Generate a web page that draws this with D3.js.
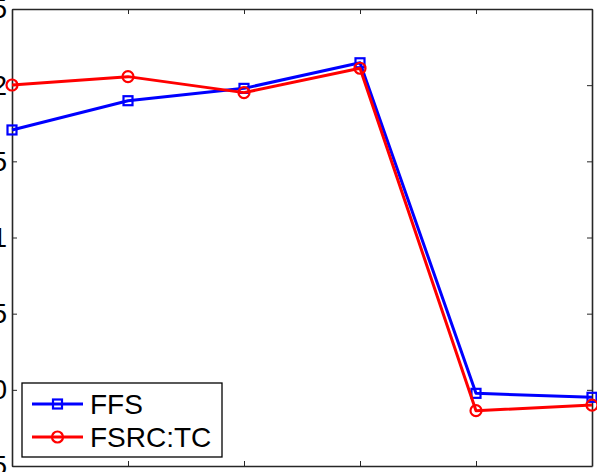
<!DOCTYPE html>
<html>
<head>
<meta charset="utf-8">
<script src="https://cdn.jsdelivr.net/npm/d3@7"></script>
<style>
  body { margin: 0; background: #fff; }
  svg { display: block; font-family: 'Liberation Sans', Arial, sans-serif; }
</style>
</head>
<body>
<div id="chart"></div>
<script>
// x positions 1..6, y values
const steps = [1, 2, 3, 4, 5, 6];
const ffsValues = [0.1706, 0.1898, 0.1979, 0.2147, -0.0023, -0.0049];
const fsrcValues = [0.2001, 0.2056, 0.1951, 0.2111, -0.0137, -0.0100];
const yTicks = [-0.05, 0, 0.05, 0.1, 0.15, 0.2, 0.25];

const series = [
  { label: 'FFS', color: '#0000ff', marker: 'square', values: ffsValues },
  { label: 'FSRC:TC', color: '#ff0000', marker: 'circle', values: fsrcValues },
];

const width = 597;
const height = 472;
const plot = { left: 12, right: 592, top: 9, bottom: 466 };
const tickLen = 5;

const svg = d3.select('#chart').append('svg').attr('width', width).attr('height', height);

const xScale = d3.scaleLinear().domain([1, 6]).range([plot.left, plot.right]);
const yScale = d3.scaleLinear().domain([-0.05, 0.25]).range([plot.bottom, plot.top]);

function drawMarker(g, type, x, y, color) {
  if (type === 'square') {
    g.append('rect')
      .attr('x', x - 4.5).attr('y', y - 4.5)
      .attr('width', 9).attr('height', 9)
      .attr('fill', 'none').attr('stroke', color).attr('stroke-width', 2.2);
  } else {
    g.append('circle')
      .attr('cx', x).attr('cy', y).attr('r', 5.5)
      .attr('fill', 'none').attr('stroke', color).attr('stroke-width', 2.2);
  }
}

// axes: mirrored MATLAB-style box with inward ticks
const fmt = (d) => (d === 0 ? '0' : d3.format('')(+d.toFixed(2)));
const axisColor = '#262626';

const axisLeftG = svg.append('g').attr('transform', `translate(${plot.left},0)`)
  .call(d3.axisLeft(yScale).tickValues(yTicks).tickSizeInner(-tickLen).tickSizeOuter(0).tickPadding(5).tickFormat(fmt));
const axisRightG = svg.append('g').attr('transform', `translate(${plot.right},0)`)
  .call(d3.axisRight(yScale).tickValues(yTicks).tickSizeInner(-tickLen).tickSizeOuter(0).tickFormat(''));
const axisBottomG = svg.append('g').attr('transform', `translate(0,${plot.bottom})`)
  .call(d3.axisBottom(xScale).tickValues(steps).tickSizeInner(-tickLen).tickSizeOuter(0).tickFormat(''));
const axisTopG = svg.append('g').attr('transform', `translate(0,${plot.top})`)
  .call(d3.axisTop(xScale).tickValues(steps).tickSizeInner(-tickLen).tickSizeOuter(0).tickFormat(''));

[axisLeftG, axisRightG, axisBottomG, axisTopG].forEach((a) => {
  a.select('.domain').attr('stroke', axisColor).attr('stroke-width', 1.6);
  a.selectAll('.tick line').attr('stroke', axisColor).attr('stroke-width', 1);
});
axisLeftG.selectAll('.tick text')
  .attr('font-size', 28)
  .attr('fill', '#000')
  .attr('font-family', "'Liberation Sans', Arial, sans-serif");

// lines and markers
const line = d3.line().x((d, i) => xScale(steps[i])).y((d) => yScale(d));

series.forEach((s) => {
  const g = svg.append('g');
  g.append('path')
    .datum(s.values)
    .attr('d', line)
    .attr('fill', 'none')
    .attr('stroke', s.color)
    .attr('stroke-width', 3)
    .attr('stroke-linejoin', 'round');
  s.values.forEach((v, i) => drawMarker(g, s.marker, xScale(steps[i]), yScale(v), s.color));
});

// legend
const legend = svg.append('g').attr('transform', 'translate(22,383)');
legend.append('rect')
  .attr('width', 200).attr('height', 74)
  .attr('fill', '#fff').attr('stroke', '#000').attr('stroke-width', 1.3);

series.forEach((s, i) => {
  const y = 21 + i * 33;
  const g = legend.append('g');
  g.append('line')
    .attr('x1', 10).attr('x2', 61).attr('y1', y).attr('y2', y)
    .attr('stroke', s.color).attr('stroke-width', 3);
  drawMarker(g, s.marker, 35.5, y, s.color);
  g.append('text')
    .attr('x', 68).attr('y', y)
    .attr('dy', '0.36em')
    .attr('font-size', 28)
    .attr('fill', '#000')
    .text(s.label);
});
</script>
</body>
</html>
